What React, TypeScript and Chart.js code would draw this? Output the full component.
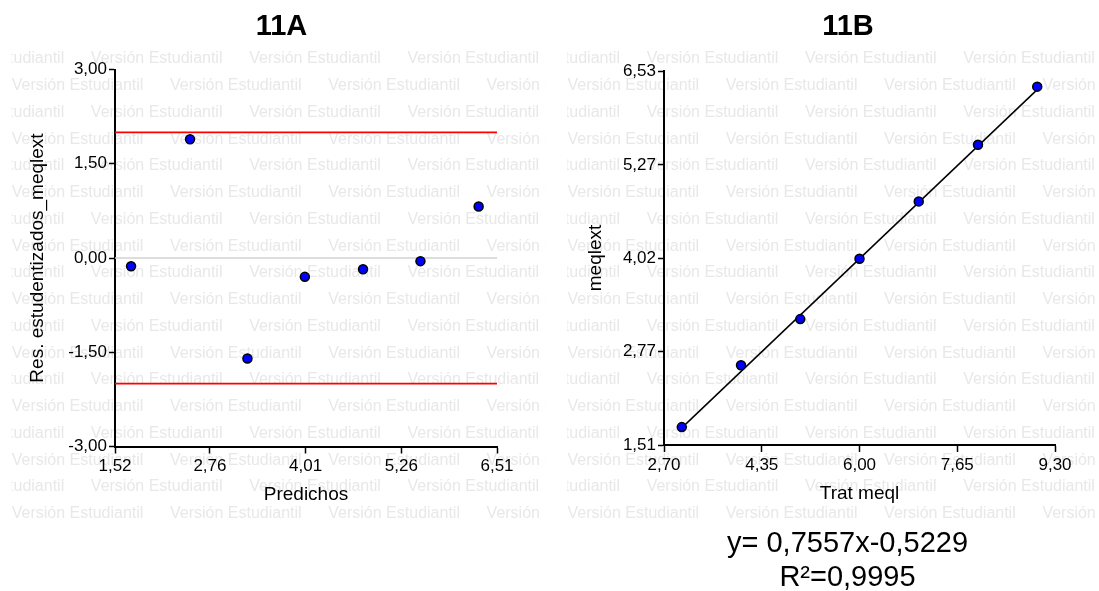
import React, { useEffect, useRef } from 'react';
import { Chart, registerables } from 'chart.js';

Chart.register(...registerables);

const FONT = "'Liberation Sans', Arial, Helvetica, sans-serif";

// ---- Panel 11A: studentized residuals vs predicted ----
const predichos = [1.73, 2.5, 3.25, 4.0, 4.76, 5.51, 6.27];
const residuos = [-0.13, 1.89, -1.6, -0.3, -0.18, -0.05, 0.82];
const limites = [2, -2];
const leftXTicks = [1.52, 2.76, 4.01, 5.26, 6.51];
const leftYTicks = [-3, -1.5, 0, 1.5, 3];

// ---- Panel 11B: meqlext vs Trat meql ----
const tratMeql = [3.0, 4.0, 5.0, 6.0, 7.0, 8.0, 9.0];
const meqlext = [1.75, 2.58, 3.2, 4.01, 4.78, 5.54, 6.32];
const ajusteX = [3.0, 9.0];
const ajusteY = [1.74, 6.28];
const rightXTicks = [2.7, 4.35, 6.0, 7.65, 9.3];
const rightYTicks = [1.51, 2.77, 4.02, 5.27, 6.53];

const panelTitles = ['11A', '11B'];
const ecuacion = ['y= 0,7557x-0,5229', 'R\u00B2=0,9995'];
const marcaAgua = 'Versi\u00F3n Estudiantil';

const fmt = (v: number) => {
  const s = v.toFixed(2).replace('.', ',');
  return s === '-0,00' ? '0,00' : s;
};

function watermarkPlugin(clipX0: number, clipX1: number, startA: number) {
  return {
    id: 'watermark',
    beforeDraw(chart: any) {
      const ctx = chart.ctx as CanvasRenderingContext2D;
      ctx.save();
      ctx.beginPath();
      ctx.rect(clipX0, 0, clipX1 - clipX0, chart.height);
      ctx.clip();
      ctx.font = `16px ${FONT}`;
      ctx.fillStyle = '#e8e8e8';
      ctx.textBaseline = 'middle';
      ctx.textAlign = 'left';
      const period = 158.3;
      for (let k = 0; k < 18; k++) {
        const y = 59 + k * 26.75;
        const start = k % 2 === 1 ? startA : startA - period / 2;
        for (let x = start - period; x < clipX1; x += period) {
          ctx.fillText(marcaAgua, x, y);
        }
      }
      ctx.restore();
    },
  };
}

function textPlugin(title: string, titleX: number, extra?: { lines: string[]; x: number; ys: number[] }) {
  return {
    id: 'texts',
    afterDraw(chart: any) {
      const ctx = chart.ctx as CanvasRenderingContext2D;
      ctx.save();
      ctx.fillStyle = '#000';
      ctx.textAlign = 'center';
      ctx.textBaseline = 'alphabetic';
      ctx.font = `bold 29px ${FONT}`;
      ctx.fillText(title, titleX, 35);
      if (extra) {
        ctx.font = `29px ${FONT}`;
        extra.lines.forEach((l, i) => ctx.fillText(l, extra.x, extra.ys[i]));
      }
      ctx.restore();
    },
  };
}

function xAxis(min: number, max: number, ticksArr: number[], title: string) {
  return {
    type: 'linear',
    position: 'bottom',
    min,
    max,
    afterBuildTicks: (s: any) => {
      s.ticks = ticksArr.map((v) => ({ value: v }));
    },
    afterFit: (s: any) => {
      s.height = 60;
    },
    ticks: {
      autoSkip: false,
      maxRotation: 0,
      color: '#000',
      padding: 3,
      font: { family: FONT, size: 17 },
      callback: (v: any) => fmt(Number(v)),
    },
    grid: {
      display: true,
      drawOnChartArea: false,
      drawTicks: true,
      tickLength: 7,
      tickColor: '#000',
      tickWidth: 1.5,
      color: '#000',
    },
    border: { display: true, color: '#000', width: 2 },
    title: {
      display: true,
      text: title,
      color: '#000',
      font: { family: FONT, size: 19 },
      padding: { top: 0, bottom: 0 },
    },
  };
}

function yAxis(min: number, max: number, ticksArr: number[], title: string, titlePad: number) {
  return {
    type: 'linear',
    position: 'left',
    min,
    max,
    afterBuildTicks: (s: any) => {
      s.ticks = ticksArr.map((v) => ({ value: v }));
    },
    afterFit: (s: any) => {
      s.width = 115;
    },
    ticks: {
      autoSkip: false,
      color: '#000',
      padding: 2,
      font: { family: FONT, size: 17 },
      callback: (v: any) => fmt(Number(v)),
    },
    grid: {
      display: true,
      drawOnChartArea: false,
      drawTicks: true,
      tickLength: 6,
      tickColor: '#000',
      tickWidth: 1.5,
      color: '#000',
    },
    border: { display: true, color: '#000', width: 2 },
    title: {
      display: true,
      text: title,
      color: '#000',
      font: { family: FONT, size: 19 },
      padding: { top: titlePad, bottom: 0 },
    },
  };
}

const baseOptions = {
  animation: false,
  responsive: false,
  devicePixelRatio: 1,
  events: [],
  plugins: { legend: { display: false }, tooltip: { enabled: false }, title: { display: false } },
};

export default function App() {
  const leftRef = useRef<HTMLCanvasElement>(null);
  const rightRef = useRef<HTMLCanvasElement>(null);

  useEffect(() => {
    const charts: Chart[] = [];
    if (leftRef.current) {
      charts.push(
        new Chart(leftRef.current, {
          type: 'scatter',
          data: {
            datasets: [
              {
                data: predichos.map((x, i) => ({ x, y: residuos[i] })),
                backgroundColor: '#0000ff',
                borderColor: '#000',
                pointRadius: 4.5,
                pointBorderWidth: 1.5,
                showLine: false,
                order: 0,
              },
              ...limites.map((l) => ({
                data: [
                  { x: leftXTicks[0], y: l },
                  { x: leftXTicks[leftXTicks.length - 1], y: l },
                ],
                showLine: true,
                borderColor: '#ff0000',
                borderWidth: 1.8,
                pointRadius: 0,
                fill: false,
                order: 1,
              })),
              {
                data: [
                  { x: leftXTicks[0], y: 0 },
                  { x: leftXTicks[leftXTicks.length - 1], y: 0 },
                ],
                showLine: true,
                borderColor: '#d2d2d2',
                borderWidth: 1.5,
                pointRadius: 0,
                fill: false,
                order: 2,
              },
            ],
          },
          options: {
            ...baseOptions,
            layout: { padding: { left: 0, top: 69.5, right: 52, bottom: 84.5 } },
            scales: {
              x: xAxis(leftXTicks[0], leftXTicks[leftXTicks.length - 1], leftXTicks, 'Predichos'),
              y: yAxis(-3, 3, leftYTicks, 'Res. estudentizados_meqlext', 26),
            },
          } as any,
          plugins: [watermarkPlugin(11.7, 545.5, 11.7), textPlugin(panelTitles[0], 281.5)],
        })
      );
    }
    if (rightRef.current) {
      charts.push(
        new Chart(rightRef.current, {
          type: 'scatter',
          data: {
            datasets: [
              {
                data: tratMeql.map((x, i) => ({ x, y: meqlext[i] })),
                backgroundColor: '#0000ff',
                borderColor: '#000',
                pointRadius: 4.5,
                pointBorderWidth: 1.5,
                showLine: false,
                order: 0,
              },
              {
                data: ajusteX.map((x, i) => ({ x, y: ajusteY[i] })),
                showLine: true,
                borderColor: '#000',
                borderWidth: 1.5,
                pointRadius: 0,
                fill: false,
                order: 1,
              },
            ],
          },
          options: {
            ...baseOptions,
            layout: { padding: { left: 0, top: 71, right: 44, bottom: 86 } },
            scales: {
              x: xAxis(rightXTicks[0], rightXTicks[rightXTicks.length - 1], rightXTicks, 'Trat meql'),
              y: yAxis(rightYTicks[0], rightYTicks[rightYTicks.length - 1], rightYTicks, 'meqlext', 35.6),
            },
          } as any,
          plugins: [
            watermarkPlugin(18, 550, 18.5),
            textPlugin(panelTitles[1], 299, { lines: ecuacion, x: 298.5, ys: [551.7, 585.7] }),
          ],
        })
      );
    }
    return () => charts.forEach((c) => c.destroy());
  }, []);

  return (
    <div
      style={{
        position: 'absolute',
        left: 0,
        top: 0,
        width: 1099,
        height: 591,
        background: '#fff',
        overflow: 'hidden',
      }}
    >
      <canvas
        ref={leftRef}
        width={549}
        height={591}
        style={{ position: 'absolute', left: 0, top: 0, width: 549, height: 591 }}
      />
      <canvas
        ref={rightRef}
        width={550}
        height={591}
        style={{ position: 'absolute', left: 549, top: 0, width: 550, height: 591 }}
      />
    </div>
  );
}
